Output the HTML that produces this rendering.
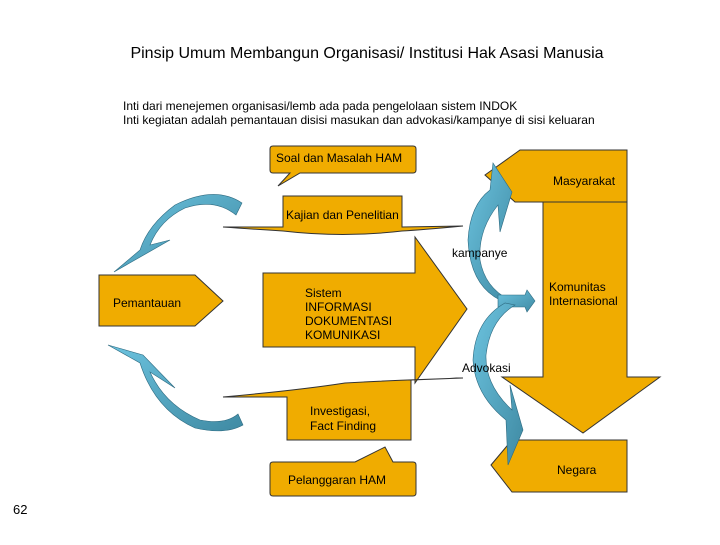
<!DOCTYPE html>
<html><head><style>
body{margin:0;background:#fff;}
svg text{font-family:"Liberation Sans",sans-serif;fill:#000;}
</style></head><body>
<svg width="720" height="540" viewBox="0 0 720 540" xmlns="http://www.w3.org/2000/svg">
<defs>
<linearGradient id="bl" x1="0" y1="0" x2="1" y2="1"><stop offset="0" stop-color="#6cc3df"/><stop offset="1" stop-color="#3f8aa3"/></linearGradient>
</defs>
<text x="367" y="58" font-size="16" text-anchor="middle">Pinsip Umum Membangun Organisasi/ Institusi Hak Asasi Manusia</text>
<text x="123" y="110" font-size="12">Inti dari menejemen organisasi/lemb ada pada pengelolaan sistem INDOK</text>
<text x="123" y="124" font-size="12">Inti kegiatan adalah pemantauan disisi masukan dan advokasi/kampanye di sisi keluaran</text>
<g fill="#f0ac00" stroke="#333" stroke-width="1">
<!-- Soal callout -->
<path d="M273,146 H413 Q416,146 416,149 V170 Q416,173 413,173 H300 L278,186 L290,173 H273 Q270,173 270,170 V149 Q270,146 273,146 Z"/>
<!-- Kajian -->
<path d="M283,196 H402 V227 L463,226 Q420,230 402,231 Q343,238 283,231 Q250,229 223,227 L283,227 Z"/>
<!-- Pemantauan -->
<path d="M99,275 H195 L223,301 L195,326 H99 Z"/>
<!-- Sistem arrow -->
<path d="M263,273 H415 V237 L467,309 L415,383 V347 H263 Z"/>
<!-- Masyarakat -->
<path d="M485,175 L520,150 H627 V202 H515 Z"/>
<!-- Down arrow -->
<path d="M543,202 H627 V377 H660 L583,433 L502,377 H543 Z"/>
<!-- Negara -->
<path d="M491,465 L512,440 H627 V492 H512 Z"/>
<!-- Investigasi -->
<path d="M287,397 L223,397 Q300,390 345,383 Q400,380 463,378 L411,380 V440 H287 Z"/>
<!-- Pelanggaran -->
<path d="M273,462 H355 L385,447 L393,462 H413 Q416,462 416,465 V493 Q416,496 413,496 H273 Q270,496 270,493 V465 Q270,462 273,462 Z"/>
</g>
<g fill="url(#bl)" stroke="#2d6a80" stroke-width="0.6">
<!-- top-left curved arrow -->
<path d="M242,203 Q215,185 175,205 Q148,225 140,250 L114,272 L170,240 L150,245 Q160,220 185,208 Q215,198 236,215 Z"/>
<!-- bottom-left -->
<path d="M108,345 L143,355 L175,388 L150,372 Q165,405 200,420 Q225,425 238,414 L243,425 Q225,435 195,428 Q155,410 140,363 Z"/>
<!-- kampanye arrow up -->
<path d="M500,300 Q470,285 468,240 Q470,205 490,190 L493,163 L512,192 L500,232 L498,205 Q478,230 480,260 Q485,288 510,300 Z"/>
<!-- center right arrow -->
<path d="M498,295 L525,295 L527,290 L535,301 L527,312 L525,307 L498,307 Z"/>
<!-- advokasi arrow down -->
<path d="M505,303 Q475,320 473,360 Q475,395 506,420 L508,465 L523,430 L510,385 L512,410 Q485,385 486,355 Q490,320 515,305 Z"/>
</g>
<g font-size="12">
<text x="276" y="162">Soal dan Masalah HAM</text>
<text x="553" y="185">Masyarakat</text>
<text x="286" y="219">Kajian dan Penelitian</text>
<text x="452" y="257">kampanye</text>
<text x="113" y="307">Pemantauan</text>
<text x="305" y="297">Sistem</text>
<text x="305" y="311">INFORMASI</text>
<text x="305" y="325">DOKUMENTASI</text>
<text x="305" y="339">KOMUNIKASI</text>
<text x="549" y="291">Komunitas</text>
<text x="549" y="305">Internasional</text>
<text x="462" y="372">Advokasi</text>
<text x="310" y="415">Investigasi,</text>
<text x="310" y="430">Fact Finding</text>
<text x="557" y="474">Negara</text>
<text x="288" y="484">Pelanggaran HAM</text>
<text x="13" y="514" font-size="13">62</text>
</g>
</svg>
</body></html>
